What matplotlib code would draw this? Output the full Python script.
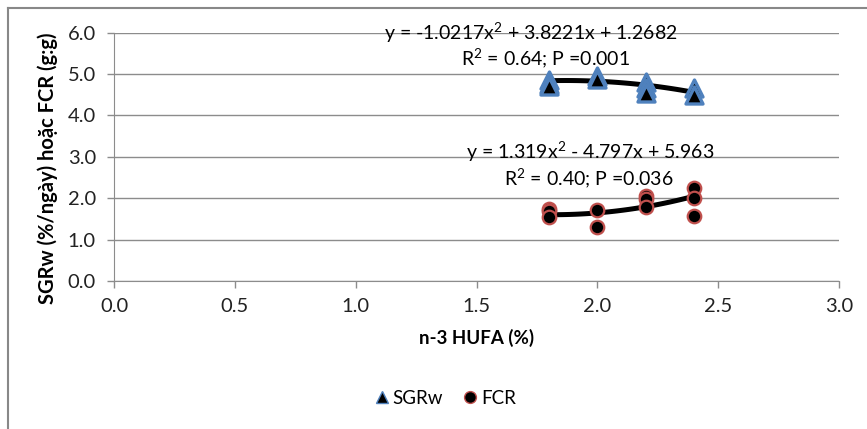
import numpy as np
import matplotlib
matplotlib.use("Agg")
import matplotlib.pyplot as plt
from matplotlib.lines import Line2D

plt.rcParams['font.family'] = ['Lato', 'DejaVu Sans']
plt.rcParams['mathtext.fontset'] = 'custom'
plt.rcParams['mathtext.rm'] = 'Lato'
plt.rcParams['mathtext.it'] = 'Lato'
plt.rcParams['mathtext.default'] = 'regular'

# Dữ liệu
hufa_sgr = [1.8, 1.8, 1.8, 2.0, 2.0, 2.2, 2.2, 2.2, 2.4, 2.4]
sgrw     = [4.85, 4.75, 4.70, 4.95, 4.88, 4.80, 4.65, 4.55, 4.65, 4.50]

hufa_fcr = [1.8, 1.8, 1.8, 2.0, 2.0, 2.2, 2.2, 2.2, 2.4, 2.4, 2.4]
fcr      = [1.75, 1.68, 1.55, 1.72, 1.30, 2.05, 1.98, 1.78, 2.25, 2.00, 1.58]

# Hệ số đường xu hướng (in trên hình)
coef_sgr = [-1.0217, 3.8221, 1.2682]
coef_fcr = [1.319, -4.797, 5.963]

eq_sgr = "y = -1.0217x$^2$ + 3.8221x + 1.2682"
r2_sgr = "R$^2$ = 0.64; P =0.001"
eq_fcr = "y = 1.319x$^2$ - 4.797x + 5.963"
r2_fcr = "R$^2$ = 0.40; P =0.036"

xticks = [0.0, 0.5, 1.0, 1.5, 2.0, 2.5, 3.0]
yticks = [0.0, 1.0, 2.0, 3.0, 4.0, 5.0, 6.0]

BLUE = "#4F81BD"
RED = "#C0504D"
GRID = "#8C8C8C"

fig = plt.figure(figsize=(8.67, 4.29), dpi=100)
ax = fig.add_axes([0.1315, 0.345, 0.8362, 0.579])

xs = np.linspace(1.8, 2.4, 50)
ax.plot(xs, np.polyval(coef_sgr, xs), color="black", lw=3.6, zorder=2,
        solid_capstyle="butt")
ax.plot(xs, np.polyval(coef_fcr, xs), color="black", lw=3.6, zorder=2,
        solid_capstyle="butt")

ax.scatter(hufa_sgr, sgrw, marker="^", s=150, facecolor="black",
           edgecolor=BLUE, linewidth=2.4, zorder=3)
ax.scatter(hufa_fcr, fcr, marker="o", s=95, facecolor="black",
           edgecolor=RED, linewidth=1.6, zorder=3)

ax.set_xlim(0, 3)
ax.set_ylim(0, 6)
ax.set_xticks(xticks)
ax.set_xticklabels([f"{t:.1f}" for t in xticks])
ax.set_yticks(yticks)
ax.set_yticklabels([f"{t:.1f}" for t in yticks])
ax.grid(axis="y", color=GRID, lw=1)
ax.set_axisbelow(True)
for s in ["top", "right"]:
    ax.spines[s].set_visible(False)
for s in ["left", "bottom"]:
    ax.spines[s].set_color(GRID)
ax.tick_params(axis="both", colors=GRID, labelcolor="#222222",
               labelsize=14.5, length=5, width=1)
ax.tick_params(axis="x", pad=7)
ax.tick_params(axis="y", pad=8)

ax.set_xlabel("n-3 HUFA (%)", fontsize=13.5, fontweight="bold", labelpad=10)
fig.text(0.055, 0.607, "SGRw (%/ngày) hoặc FCR (g:g)", rotation=90,
         fontsize=14.5, fontweight="bold", ha="center", va="center")

ax.text(1.725, 6.0, eq_sgr, fontsize=14, ha="center", va="center", zorder=4)
ax.text(1.785, 5.39, r2_sgr, fontsize=14, ha="center", va="center", zorder=4)
ax.text(1.97, 3.12, eq_fcr, fontsize=14, ha="center", va="center", zorder=4)
ax.text(1.965, 2.49, r2_fcr, fontsize=14, ha="center", va="center", zorder=4)

handles = [
    Line2D([], [], marker="^", ls="none", markerfacecolor="black",
           markeredgecolor=BLUE, markersize=8.5, markeredgewidth=1.0),
    Line2D([], [], marker="o", ls="none", markerfacecolor="black",
           markeredgecolor=RED, markersize=8.5, markeredgewidth=1.0),
]
fig.legend(handles, ["SGRw", "FCR"], loc="center", ncol=2,
           bbox_to_anchor=(0.512, 0.072), frameon=False, fontsize=13.5,
           handletextpad=0.1, columnspacing=0.9, handlelength=1.0)

# khung ngoài biểu đồ
fig.add_artist(Line2D([8 / 867, 1], [1 - 8 / 429, 1 - 8 / 429],
                      color="#888888", lw=1.5, transform=fig.transFigure))
fig.add_artist(Line2D([8 / 867, 8 / 867], [0, 1 - 8 / 429],
                      color="#888888", lw=1.5, transform=fig.transFigure))

fig.savefig("out.png", dpi=100)
